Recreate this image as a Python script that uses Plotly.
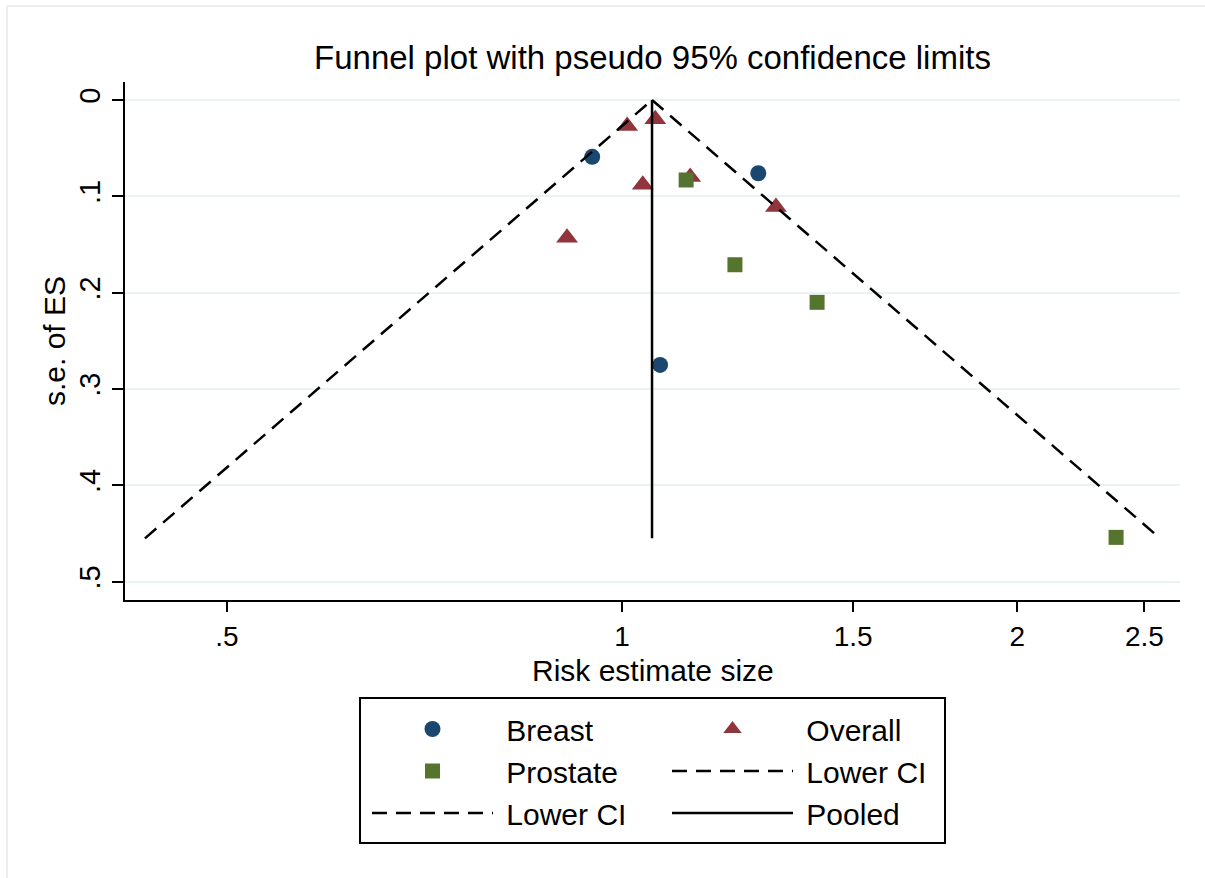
import plotly.graph_objects as go

# Data
breast_es = [0.949, 1.27, 1.069]
breast_se = [0.059, 0.076, 0.275]
overall_es = [1.009, 1.060, 1.037, 1.127, 1.310, 0.908]
overall_se = [0.027, 0.020, 0.088, 0.080, 0.111, 0.143]
prostate_es = [1.119, 1.219, 1.408, 2.379]
prostate_se = [0.083, 0.171, 0.210, 0.454]
lower_ci_es = [0.433, 1.054]
lower_ci_se = [0.455, 0.0]
upper_ci_es = [1.054, 2.57]
upper_ci_se = [0.0, 0.455]
pooled_es = [1.054, 1.054]
pooled_se = [0.0, 0.455]

xticks = [0.5, 1, 1.5, 2, 2.5]
xtick_text = [".5", "1", "1.5", "2", "2.5"]
yticks = [0, 0.1, 0.2, 0.3, 0.4, 0.5]
ytick_text = ["0", ".1", ".2", ".3", ".4", ".5"]

FONT = "Liberation Sans, Arial, sans-serif"
DASH = "15px,9px"
PAD = "\u00a0"

fig = go.Figure()
fig.add_trace(go.Scatter(x=breast_es, y=breast_se, mode="markers", name=PAD + "Breast",
                         legend="legend",
                         marker=dict(symbol="circle", size=16, color="#1a476f")))
fig.add_trace(go.Scatter(x=overall_es, y=overall_se, mode="markers", name=PAD + "Overall",
                         legend="legend2",
                         marker=dict(symbol="triangle-up", size=19, color="#90353b")))
fig.add_trace(go.Scatter(x=prostate_es, y=prostate_se, mode="markers", name=PAD + "Prostate",
                         legend="legend",
                         marker=dict(symbol="square", size=15, color="#55752f")))
fig.add_trace(go.Scatter(x=upper_ci_es, y=upper_ci_se, mode="lines", name=PAD + "Lower CI",
                         legend="legend2",
                         line=dict(color="black", width=2.5, dash=DASH)))
fig.add_trace(go.Scatter(x=lower_ci_es, y=lower_ci_se, mode="lines", name=PAD + "Lower CI",
                         legend="legend",
                         line=dict(color="black", width=2.5, dash=DASH)))
fig.add_trace(go.Scatter(x=pooled_es, y=pooled_se, mode="lines", name=PAD + "Pooled",
                         legend="legend2",
                         line=dict(color="black", width=2.5)))

legend_common = dict(orientation="v", yanchor="top", xanchor="left",
                     borderwidth=0, bgcolor="rgba(0,0,0,0)",
                     itemwidth=121, traceorder="normal", font=dict(size=30))

fig.update_layout(
    width=1205, height=878,
    margin=dict(l=125, r=25, t=82, b=278),
    paper_bgcolor="white", plot_bgcolor="white",
    font=dict(family=FONT, size=30, color="black"),
    title=dict(text="Funnel plot with pseudo 95% confidence limits",
               xref="paper", x=0.5, xanchor="center", y=1 - 57 / 878, yanchor="middle",
               font=dict(size=33)),
    xaxis=dict(type="log", range=[-0.3787, 0.4251],
               tickvals=xticks, ticktext=xtick_text,
               showgrid=False, zeroline=False,
               showline=True, linecolor="black", linewidth=2,
               ticks="outside", ticklen=10, tickwidth=1.5, tickcolor="black",
               tickfont=dict(size=28)),
    yaxis=dict(range=[0.519, -0.0187],
               tickvals=yticks, ticktext=ytick_text, tickangle=-90,
               showgrid=True, gridcolor="#eaf2f3", gridwidth=2,
               zeroline=False,
               showline=True, linecolor="black", linewidth=2,
               ticks="outside", ticklen=11, tickwidth=1.5, tickcolor="black",
               tickfont=dict(size=29),
               title=dict(text="s.e. of ES", font=dict(size=30), standoff=0)),
    legend=dict(x=(367 - 125) / 1055, y=(600 - 703) / 518, **legend_common),
    legend2=dict(x=(667 - 125) / 1055, y=(600 - 703) / 518, **legend_common),
    showlegend=True,
)

# x-axis title
fig.add_annotation(text="Risk estimate size", xref="paper", yref="paper",
                   x=0.5, y=(600 - 670) / 518, xanchor="center", yanchor="middle",
                   showarrow=False, font=dict(size=30))

# legend frame
fig.add_shape(type="rect", xref="paper", yref="paper",
              x0=(360 - 125) / 1055, x1=(945 - 125) / 1055,
              y0=(600 - 698) / 518, y1=(600 - 843) / 518,
              line=dict(color="black", width=2), fillcolor="rgba(0,0,0,0)")

# faint graph-region outline (left and top)
fig.add_shape(type="line", xref="paper", yref="paper",
              x0=(7 - 125) / 1055, x1=(7 - 125) / 1055, y0=(600 - 6) / 518, y1=(600 - 878) / 518,
              line=dict(color="#eceff0", width=2))
fig.add_shape(type="line", xref="paper", yref="paper",
              x0=(7 - 125) / 1055, x1=(1205 - 125) / 1055, y0=(600 - 6) / 518, y1=(600 - 6) / 518,
              line=dict(color="#eceff0", width=2))

fig.write_html("out.html", config={"displayModeBar": False},
               post_script="document.body.style.margin='0px';")
